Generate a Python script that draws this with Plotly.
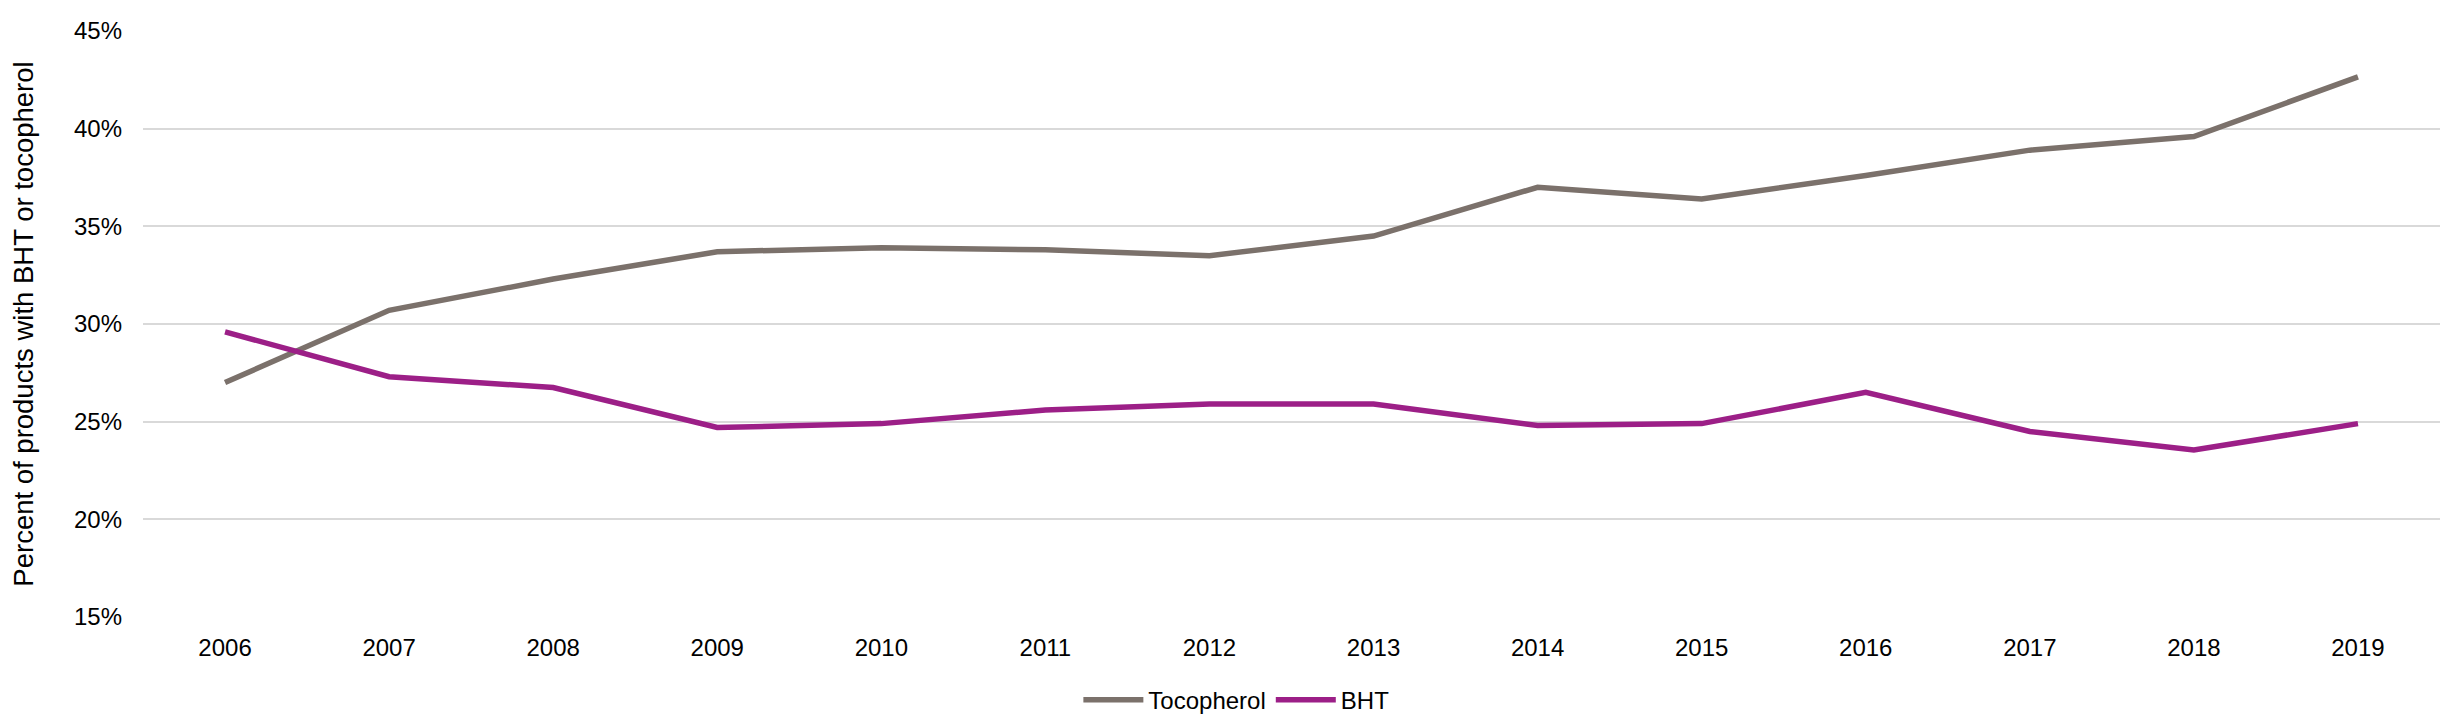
import plotly.graph_objects as go

years = ["2006", "2007", "2008", "2009", "2010", "2011", "2012",
         "2013", "2014", "2015", "2016", "2017", "2018", "2019"]
tocopherol = [0.270, 0.307, 0.323, 0.337, 0.339, 0.338, 0.335,
              0.345, 0.370, 0.364, 0.376, 0.389, 0.396, 0.4265]
bht = [0.296, 0.273, 0.2675, 0.247, 0.249, 0.256, 0.259,
       0.259, 0.248, 0.249, 0.265, 0.245, 0.2355, 0.249]
y_ticks = [0.15, 0.20, 0.25, 0.30, 0.35, 0.40, 0.45]

FONT = "Liberation Sans, Arial, sans-serif"

fig = go.Figure()
fig.add_trace(go.Scatter(x=years, y=tocopherol, mode="lines", name="Tocopherol",
                         line=dict(color="#7b716b", width=5.5)))
fig.add_trace(go.Scatter(x=years, y=bht, mode="lines", name="BHT",
                         line=dict(color="#9c1f87", width=5.5)))

fig.update_layout(
    width=2461, height=716,
    margin=dict(l=143, r=21, t=31, b=99, autoexpand=False),
    paper_bgcolor="white", plot_bgcolor="white",
    font=dict(family=FONT, size=24, color="#000000"),
    showlegend=True,
    legend=dict(orientation="h", x=0.476, xanchor="center",
                yref="container", y=0.0223, yanchor="middle",
                font=dict(size=24, color="#000000"), itemwidth=60,
                bgcolor="rgba(0,0,0,0)"),
    xaxis=dict(type="category", range=[-0.5, 13.5], showgrid=False, zeroline=False,
               showline=False, ticks="", tickfont=dict(size=24, color="#000000"),
               ticklabelstandoff=14),
    yaxis=dict(range=[0.15, 0.45], tickvals=y_ticks, tickformat=".0%",
               showgrid=True, gridcolor="#d9d9d9", gridwidth=2,
               zeroline=False, showline=False, ticks="",
               tickfont=dict(size=24, color="#000000"),
               ticklabelstandoff=20,
               title=dict(text="Percent of products with BHT or tocopherol",
                          font=dict(size=27.5, color="#000000"), standoff=32)),
)

fig.write_html("out.html",
               config={"displayModeBar": False},
               post_script="document.body.style.margin='0';document.body.style.overflow='hidden';")
